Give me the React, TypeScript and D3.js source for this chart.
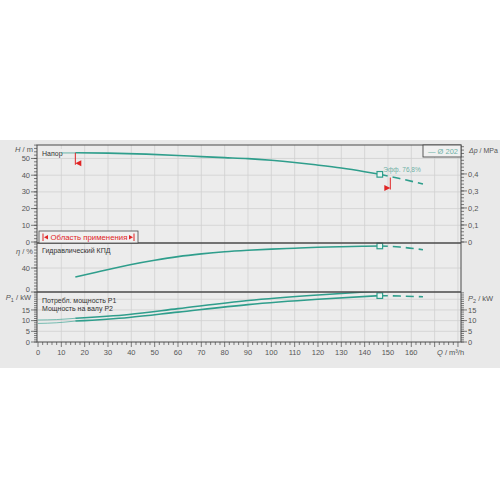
import React from "react";
import * as d3 from "d3";

// ---- data ----
const qTicks = [0, 10, 20, 30, 40, 50, 60, 70, 80, 90, 100, 110, 120, 130, 140, 150, 160];
const hTicks = [0, 10, 20, 30, 40, 50];
const dpTicks = [0, 0.1, 0.2, 0.3, 0.4];
const etaTicks = [0, 40];
const pTicks = [0, 5, 10, 15];

// Head curve
const headPreQ = [10, 16];
const headPreH = [53.3, 53.3];
const headQ = [16, 30, 46.5, 60, 70, 80, 90, 100, 110, 119, 130, 140, 146.5];
const headH = [53.4, 53.2, 52.6, 51.8, 51.1, 50.5, 49.9, 48.9, 47.6, 46.2, 44.3, 42.1, 40.5];
const headDashQ = [146.5, 155, 165];
const headDashH = [40.5, 38.0, 34.7];

// Efficiency curve
const etaQ = [16, 25, 40, 50, 60, 70, 80, 90, 100, 110, 120, 130, 140, 146.5];
const etaV = [25, 33, 46, 53, 59, 63.5, 67, 69.5, 71.5, 73, 74.5, 75.5, 76.3, 76.8];
const etaDashQ = [146.5, 155, 165];
const etaDashV = [76.8, 75.0, 70.5];

// Power curves
const p1PreQ = [0, 8, 16];
const p1PreV = [10.3, 10.5, 11.1];
const p1Q = [16, 39, 60, 90, 120, 140, 146.5];
const p1V = [11.1, 12.9, 15.6, 19.4, 22.0, 23.4, 23.8];
const p2PreQ = [0, 8, 16];
const p2PreV = [8.7, 9.0, 9.8];
const p2Q = [16, 39, 60, 90, 120, 146.5];
const p2V = [9.8, 11.5, 14.0, 17.5, 20.0, 21.7];
const p2DashQ = [146.5, 155, 165];
const p2DashV = [21.7, 21.5, 21.2];
const p1DashQ = [146.5, 155, 165];
const p1DashV = [23.8, 23.9, 23.9];

const dutyQ = 146.5;
const limitMinQ = 16;
const limitMaxQ = 151;
const effLabel = "Эфф.  76,8%";
const legendLabel = "— Ø 202";

const TEAL = "#2f9e8c";
const AXIS = "#4a4a4a";
const GRID = "#d0d0d0";
const TXT = "#555";
const RED = "#e02424";
const FONT = "'Liberation Sans', Arial, sans-serif";

export default function App() {
  const x = d3.scaleLinear().domain([0, 181.3]).range([38, 461]);
  const L = 37, R = 461;
  const top = { y0: 145, y1: 243 };
  const mid = { y0: 243, y1: 292 };
  const bot = { y0: 292, y1: 342 };
  const yH = d3.scaleLinear().domain([0, 58]).range([242, 145.1]);
  const yDp = d3.scaleLinear().domain([0, 0.57]).range([242, 145]);
  const yEta = d3.scaleLinear().domain([0, 81.7]).range([292, 243]);
  const yP = d3.scaleLinear().domain([0, 23.4]).range([342, 292]);

  const mk = (qs: number[], vs: number[], y: d3.ScaleLinear<number, number>) =>
    d3.line<number>().x((_, i) => x(qs[i])).y((v) => y(v)).curve(d3.curveMonotoneX)(vs) || "";

  const interp = (qs: number[], vs: number[], q: number) => {
    for (let i = 0; i < qs.length - 1; i++) {
      if (q >= qs[i] && q <= qs[i + 1]) {
        const t = (q - qs[i]) / (qs[i + 1] - qs[i]);
        return vs[i] + t * (vs[i + 1] - vs[i]);
      }
    }
    return vs[vs.length - 1];
  };

  const gridQ = d3.range(10, 181, 10);
  const hGrid = [10, 20, 30, 40, 50];
  const etaGrid = [40];
  const pGrid = [5, 10, 15, 20];

  const minorLeft = (y: d3.ScaleLinear<number, number>, from: number, to: number, step: number, y0: number, y1: number) =>
    d3.range(from, to + step / 2, step).map((v) => y(v)).filter((py) => py >= y0 - 0.1 && py <= y1 + 0.1);

  const marker = (cx: number, cy: number, key: string) => (
    <rect key={key} x={cx - 2.8} y={cy - 2.8} width={5.6} height={5.6} fill="#e8f5f2" stroke={TEAL} strokeWidth={1.2} />
  );

  const hAtMin = interp(headQ, headH, limitMinQ);
  const hAtMax = interp(headDashQ, headDashH, limitMaxQ);

  return (
    <svg width={500} height={500} style={{ position: "absolute", left: 0, top: 0 }} fontFamily={FONT}>
      <rect x={0} y={0} width={500} height={500} fill="#ffffff" />
      <rect x={0} y={140} width={500} height={228} fill="#e9e9e9" />
      <rect x={L} y={top.y0} width={R - L} height={bot.y1 - top.y0} fill="#ececec" />
      <defs>
        <clipPath id="cTop"><rect x={L} y={top.y0} width={R - L} height={top.y1 - top.y0} /></clipPath>
        <clipPath id="cMid"><rect x={L} y={mid.y0} width={R - L} height={mid.y1 - mid.y0} /></clipPath>
        <clipPath id="cBot"><rect x={L} y={bot.y0} width={R - L} height={bot.y1 - bot.y0} /></clipPath>
      </defs>

      {/* grid */}
      <g stroke={GRID} strokeWidth={0.8}>
        {gridQ.map((q) => (
          <line key={"gq" + q} x1={x(q)} x2={x(q)} y1={top.y0} y2={bot.y1} />
        ))}
        {hGrid.map((v) => (
          <line key={"gh" + v} x1={L} x2={R} y1={yH(v)} y2={yH(v)} />
        ))}
        {etaGrid.map((v) => (
          <line key={"ge" + v} x1={L} x2={R} y1={yEta(v)} y2={yEta(v)} />
        ))}
        {pGrid.map((v) => (
          <line key={"gp" + v} x1={L} x2={R} y1={yP(v)} y2={yP(v)} />
        ))}
      </g>

      {/* panel labels */}
      <rect x={40} y={149} width={22} height={9} fill="#ececec" />
      <text x={42} y={155.5} fontSize={7} fill="#333">Напор</text>
      <text x={42} y={252.5} fontSize={7} fill="#333">Гидравлический КПД</text>
      <text x={42} y={302.5} fontSize={7} fill="#333">Потребл. мощность P1</text>
      <text x={42} y={310.5} fontSize={7} fill="#333">Мощность на валу P2</text>

      {/* curves: head */}
      <g clipPath="url(#cTop)" fill="none">
        <path d={mk(headPreQ, headPreH, yH)} stroke={TEAL} strokeWidth={0.9} opacity={0.8} />
        <path d={mk(headQ, headH, yH)} stroke={TEAL} strokeWidth={1.6} />
        <path d={mk(headDashQ, headDashH, yH)} stroke={TEAL} strokeWidth={1.6} strokeDasharray="8 5" />
      </g>
      {/* curves: efficiency */}
      <g clipPath="url(#cMid)" fill="none">
        <path d={mk(etaQ, etaV, yEta)} stroke={TEAL} strokeWidth={1.6} />
        <path d={mk(etaDashQ, etaDashV, yEta)} stroke={TEAL} strokeWidth={1.6} strokeDasharray="8 5" />
      </g>
      {/* curves: power */}
      <g clipPath="url(#cBot)" fill="none">
        <path d={mk(p1PreQ, p1PreV, yP)} stroke={TEAL} strokeWidth={0.9} opacity={0.7} />
        <path d={mk(p2PreQ, p2PreV, yP)} stroke={TEAL} strokeWidth={0.9} opacity={0.7} />
        <path d={mk(p1Q, p1V, yP)} stroke={TEAL} strokeWidth={1.6} />
        <path d={mk(p2Q, p2V, yP)} stroke={TEAL} strokeWidth={1.6} />
        <path d={mk(p1DashQ, p1DashV, yP)} stroke={TEAL} strokeWidth={1.6} strokeDasharray="8 5" />
        <path d={mk(p2DashQ, p2DashV, yP)} stroke={TEAL} strokeWidth={1.6} strokeDasharray="8 5" />
      </g>

      {/* application limits */}
      <g stroke={RED} strokeWidth={1} fill={RED}>
        <line x1={x(limitMinQ)} x2={x(limitMinQ)} y1={yH(hAtMin)} y2={yH(hAtMin) + 12} />
        <path d={`M${x(limitMinQ)},${yH(hAtMin) + 10.5} L${x(limitMinQ) + 6},${yH(hAtMin) + 7.5} L${x(limitMinQ) + 6},${yH(hAtMin) + 13.5} Z`} stroke="none" />
        <line x1={x(limitMaxQ)} x2={x(limitMaxQ)} y1={yH(hAtMax) + 1} y2={yH(hAtMax) + 13} />
        <path d={`M${x(limitMaxQ)},${yH(hAtMax) + 11.5} L${x(limitMaxQ) - 6},${yH(hAtMax) + 8.5} L${x(limitMaxQ) - 6},${yH(hAtMax) + 14.5} Z`} stroke="none" />
      </g>

      {/* duty markers */}
      {marker(x(dutyQ), yH(interp(headQ, headH, dutyQ)), "mh")}
      {marker(x(dutyQ), yEta(interp(etaQ, etaV, dutyQ)), "me")}
      {marker(x(dutyQ), yP(interp(p2Q, p2V, dutyQ)), "mp")}
      <text x={x(dutyQ) + 3.5} y={yH(interp(headQ, headH, dutyQ)) - 2} fontSize={6.5} fill="#6fb0a6">{effLabel}</text>

      {/* panel borders */}
      <g fill="none" stroke={AXIS}>
        <rect x={L} y={top.y0} width={R - L} height={bot.y1 - top.y0} strokeWidth={1} />
        <line x1={L} x2={R} y1={mid.y0} y2={mid.y0} strokeWidth={1.3} />
        <line x1={L} x2={R} y1={bot.y0} y2={bot.y0} strokeWidth={1.3} />
      </g>

      {/* application range box */}
      <g>
        <rect x={39} y={231} width={99} height={12} fill="#f0f0f0" stroke={AXIS} strokeWidth={0.8} />
        <line x1={43} x2={43} y1={233.5} y2={241} stroke={RED} strokeWidth={1} />
        <path d="M44,237.2 L48,235 L48,239.4 Z" fill={RED} />
        <text x={50.5} y={240} fontSize={7.8} fill={RED}>Область применения</text>
        <path d="M133,237.2 L129,235 L129,239.4 Z" fill={RED} />
        <line x1={134} x2={134} y1={233.5} y2={241} stroke={RED} strokeWidth={1} />
      </g>

      {/* legend */}
      <rect x={423} y={145} width={38} height={12} fill="#f0f0f0" stroke={AXIS} strokeWidth={0.9} />
      <text x={458} y={154} fontSize={7.5} fill="#6fb0a6" textAnchor="end">{legendLabel}</text>

      {/* left axis ticks */}
      <g stroke={AXIS} strokeWidth={0.7}>
        {minorLeft(yH, 0, 58, 2, top.y0, top.y1).map((py, i) => (
          <line key={"lh" + i} x1={L - 3} x2={L} y1={py} y2={py} />
        ))}
        {minorLeft(yEta, 0, 80, 5, mid.y0, mid.y1).map((py, i) => (
          <line key={"le" + i} x1={L - 3} x2={L} y1={py} y2={py} />
        ))}
        {minorLeft(yP, 0, 23, 1, bot.y0, bot.y1).map((py, i) => (
          <line key={"lp" + i} x1={L - 3} x2={L} y1={py} y2={py} />
        ))}
        {hTicks.map((v) => <line key={"Lh" + v} x1={L - 6} x2={L} y1={yH(v)} y2={yH(v)} />)}
        {etaTicks.map((v) => <line key={"Le" + v} x1={L - 6} x2={L} y1={yEta(v)} y2={yEta(v)} />)}
        {pTicks.map((v) => <line key={"Lp" + v} x1={L - 6} x2={L} y1={yP(v)} y2={yP(v)} />)}
        {/* right axis */}
        {minorLeft(yDp, 0, 0.56, 0.02, top.y0, top.y1).map((py, i) => (
          <line key={"rd" + i} x1={R} x2={R + 3} y1={py} y2={py} />
        ))}
        {minorLeft(yP, 0, 23, 1, bot.y0, bot.y1).map((py, i) => (
          <line key={"rp" + i} x1={R} x2={R + 3} y1={py} y2={py} />
        ))}
        {dpTicks.map((v) => <line key={"Rd" + v} x1={R} x2={R + 6} y1={yDp(v)} y2={yDp(v)} />)}
        {pTicks.map((v) => <line key={"Rp" + v} x1={R} x2={R + 6} y1={yP(v)} y2={yP(v)} />)}
        {/* bottom axis */}
        {d3.range(0, 181, 2).map((q) => (
          <line key={"bq" + q} x1={x(q)} x2={x(q)} y1={bot.y1} y2={bot.y1 + (q % 10 === 0 ? 5 : 3)} />
        ))}
      </g>

      {/* tick labels */}
      <g fontSize={7.5} fill={TXT}>
        {hTicks.map((v) => (
          <text key={"th" + v} x={L - 7} y={yH(v) + 2.6} textAnchor="end">{v}</text>
        ))}
        {etaTicks.map((v) => (
          <text key={"te" + v} x={L - 7} y={yEta(v) + (v === 0 ? -0.5 : 2.6)} textAnchor="end">{v}</text>
        ))}
        {pTicks.map((v) => (
          <text key={"tp" + v} x={L - 7} y={yP(v) + 2.6} textAnchor="end">{v}</text>
        ))}
        {dpTicks.map((v) => (
          <text key={"td" + v} x={R + 7} y={yDp(v) + 2.6}>{String(v).replace(".", ",")}</text>
        ))}
        {pTicks.map((v) => (
          <text key={"tr" + v} x={R + 7} y={yP(v) + 2.6}>{v}</text>
        ))}
        {qTicks.map((q) => (
          <text key={"tq" + q} x={x(q)} y={354.5} textAnchor="middle">{q}</text>
        ))}
      </g>

      {/* axis titles */}
      <g fontSize={7.5} fill={TXT}>
        <text x={33} y={152} textAnchor="end"><tspan fontStyle="italic">H</tspan> / m</text>
        <text x={33} y={254} textAnchor="end"><tspan fontStyle="italic">η</tspan> / %</text>
        <text x={31} y={300} textAnchor="end"><tspan fontStyle="italic">P</tspan><tspan fontSize={5.5} dy={1.5}>1</tspan><tspan dy={-1.5}> / kW</tspan></text>
        <text x={469} y={153} fontSize={7}><tspan fontStyle="italic">Δp</tspan> / MPa</text>
        <text x={468} y={301}><tspan fontStyle="italic">P</tspan><tspan fontSize={5.5} dy={1.5}>2</tspan><tspan dy={-1.5}> / kW</tspan></text>
        <text x={437} y={354.5}><tspan fontStyle="italic">Q</tspan> / m³/h</text>
      </g>
    </svg>
  );
}
